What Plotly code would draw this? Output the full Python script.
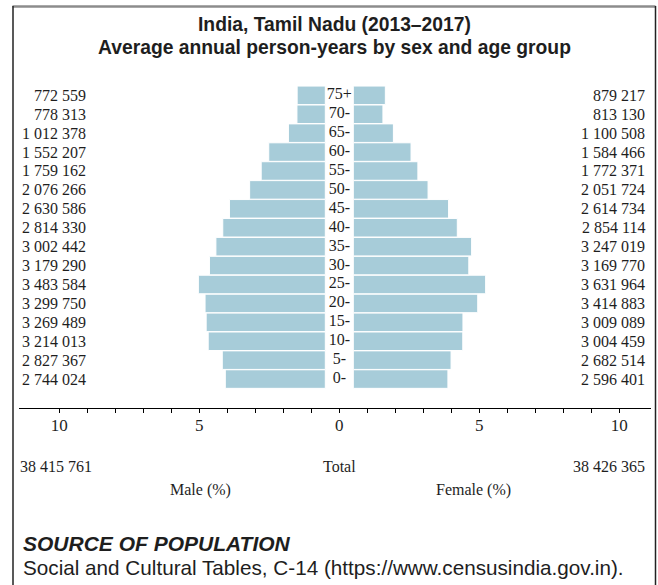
import plotly.graph_objects as go

# ---- data ----
age_groups = ["0-", "5-", "10-", "15-", "20-", "25-", "30-", "35-",
              "40-", "45-", "50-", "55-", "60-", "65-", "70-", "75+"]
male = [2744024, 2827367, 3214013, 3269489, 3299750, 3483584, 3179290, 3002442,
        2814330, 2630586, 2076266, 1759162, 1552207, 1012378, 778313, 772559]
female = [2596401, 2682514, 3004459, 3009089, 3414883, 3631964, 3169770, 3247019,
          2854114, 2614734, 2051724, 1772371, 1584466, 1100508, 813130, 879217]
male_total = 38415761
female_total = 38426365
tick_values = [-10, -5, 0, 5, 10]
tick_labels = ["10", "5", "0", "5", "10"]
minor_tick_values = [v for v in range(-10, 11)]

grand_total = male_total + female_total
male_pct = [v / grand_total * 100 for v in male]
female_pct = [v / grand_total * 100 for v in female]
idx = list(range(len(age_groups)))


def fmt(v):
    return f"{v:,}".replace(",", " ")


# ---- layout geometry (pixels) ----
W_FIG, H_FIG = 658, 585
L, R, T, B = 19, 7, 80, 177
PW = W_FIG - L - R
PH = H_FIG - T - B
GAP = 0.5
BAR_COLOR = "#a7ccd9"
SERIF = "Liberation Serif"
SANS = "Liberation Sans"
INK = "#1e1e1e"
FS = 16


def px(x):
    return (x - L) / PW


def py(y):
    return (T + PH - y) / PH


fig = go.Figure()
fig.add_trace(go.Bar(
    y=idx, x=[-p for p in male_pct], base=-GAP, orientation="h",
    marker=dict(color=BAR_COLOR, line=dict(color="white", width=1)),
    hoverinfo="skip", showlegend=False))
fig.add_trace(go.Bar(
    y=idx, x=female_pct, base=GAP, orientation="h",
    marker=dict(color=BAR_COLOR, line=dict(color="white", width=1)),
    hoverinfo="skip", showlegend=False))
fig.add_trace(go.Scatter(
    x=[0] * len(idx), y=idx, mode="text", text=age_groups,
    textposition="middle center",
    textfont=dict(family=SERIF, size=FS, color=INK),
    hoverinfo="skip", showlegend=False))

annotations = []
for i, (m, f) in enumerate(zip(male, female)):
    annotations.append(dict(x=px(88), y=i, xref="paper", yref="y", text=fmt(m),
                            xanchor="right", yanchor="middle", showarrow=False,
                            font=dict(family=SERIF, size=FS, color=INK)))
    annotations.append(dict(x=px(647), y=i, xref="paper", yref="y", text=fmt(f),
                            xanchor="right", yanchor="middle", showarrow=False,
                            font=dict(family=SERIF, size=FS, color=INK)))

annotations += [
    dict(x=px(334), y=py(25), xref="paper", yref="paper",
         text="<b>India, Tamil Nadu (2013–2017)</b>", showarrow=False,
         xanchor="center", yanchor="middle",
         font=dict(family=SANS, size=19.3, color=INK)),
    dict(x=px(334), y=py(47), xref="paper", yref="paper",
         text="<b>Average annual person-years by sex and age group</b>", showarrow=False,
         xanchor="center", yanchor="middle",
         font=dict(family=SANS, size=19.3, color=INK)),
    dict(x=px(18), y=py(466), xref="paper", yref="paper", text=fmt(male_total),
         showarrow=False, xanchor="left", yanchor="middle",
         font=dict(family=SERIF, size=FS, color=INK)),
    dict(x=px(339), y=py(466), xref="paper", yref="paper", text="Total",
         showarrow=False, xanchor="center", yanchor="middle",
         font=dict(family=SERIF, size=FS, color=INK)),
    dict(x=px(647), y=py(466), xref="paper", yref="paper", text=fmt(female_total),
         showarrow=False, xanchor="right", yanchor="middle",
         font=dict(family=SERIF, size=FS, color=INK)),
    dict(x=px(200), y=py(490), xref="paper", yref="paper", text="Male (%)",
         showarrow=False, xanchor="center", yanchor="middle",
         font=dict(family=SERIF, size=FS, color=INK)),
    dict(x=px(473), y=py(490), xref="paper", yref="paper", text="Female (%)",
         showarrow=False, xanchor="center", yanchor="middle",
         font=dict(family=SERIF, size=FS, color=INK)),
    dict(x=px(21), y=py(543.5), xref="paper", yref="paper",
         text="<b><i>SOURCE OF POPULATION</i></b>", showarrow=False,
         xanchor="left", yanchor="middle",
         font=dict(family=SANS, size=21, color=INK)),
    dict(x=px(21), y=py(567), xref="paper", yref="paper",
         text="Social and Cultural Tables, C-14 (https://www.censusindia.gov.in).",
         showarrow=False, xanchor="left", yanchor="middle",
         font=dict(family=SANS, size=20.7, color=INK)),
]

shapes = [
    dict(type="line", xref="paper", yref="paper", x0=px(12.5), x1=px(655.5),
         y0=py(6.5), y1=py(6.5), line=dict(color="#8c8c8c", width=2.5)),
    dict(type="line", xref="paper", yref="paper", x0=px(13), x1=px(13),
         y0=py(6), y1=py(590), line=dict(color="#222222", width=1.5)),
    dict(type="line", xref="paper", yref="paper", x0=px(655.5), x1=px(655.5),
         y0=py(6), y1=py(590), line=dict(color="#222222", width=1.5)),
]

x_lo = (L - 339.3) / 28.0
x_hi = (W_FIG - R - 339.3) / 28.0

fig.update_layout(
    width=W_FIG, height=H_FIG, autosize=False,
    margin=dict(l=L, r=R, t=T, b=B, pad=0),
    paper_bgcolor="white", plot_bgcolor="white",
    barmode="overlay", bargap=0.02,
    xaxis=dict(range=[x_lo, x_hi], tickmode="array", tickvals=tick_values,
               ticktext=tick_labels, ticks="outside", ticklen=4, tickwidth=1,
               tickcolor="black", showline=True, linecolor="black", linewidth=1.3,
               showgrid=False, zeroline=False, fixedrange=True,
               ticklabelstandoff=-3,
               tickfont=dict(family=SERIF, size=17, color=INK),
               minor=dict(tickmode="array", tickvals=minor_tick_values,
                          ticks="outside", ticklen=4, tickwidth=1,
                          tickcolor="black", showgrid=False)),
    yaxis=dict(range=[-1.53, 15.81], visible=False, fixedrange=True),
    annotations=annotations, shapes=shapes,
)

fig.write_html("out.html", config={"displayModeBar": False},
               post_script="document.body.style.margin='0';")
